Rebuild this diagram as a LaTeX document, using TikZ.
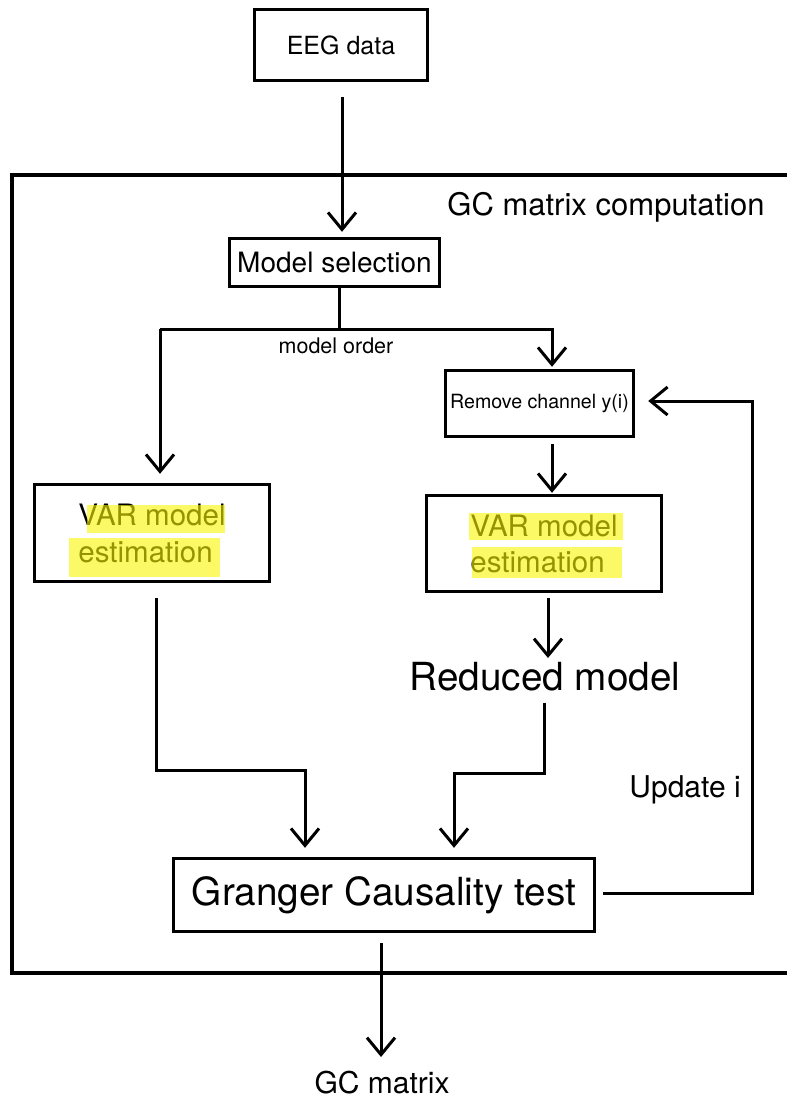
\documentclass[tikz,border=0pt]{standalone}
\usepackage{fontspec}
\setmainfont{TeX Gyre Heros}
\usetikzlibrary{arrows.meta}
\newcommand\fsz[1]{\fontsize{#1pt}{1.25\dimexpr #1pt\relax}\selectfont}
\definecolor{hl}{RGB}{250,245,0}
\begin{document}
\begin{tikzpicture}[x=1pt,y=-1pt,
  box/.style={draw,line width=3.4pt,inner sep=0pt},
  lbl/.style={inner sep=0pt},
  conn/.style={line width=3pt},
  arr/.style={line width=3pt,-{Straight Barb[length=17pt,width=28pt,line width=3pt]}},
  hlmark/.style={fill=hl,opacity=0.6}
]
\useasboundingbox (0,0) rectangle (787,1101);
% outer frame
\draw[line width=3.4pt] (790,175) -- (12,175) -- (12,973) -- (790,973);
\node[lbl,font=\fsz{31}] (title) at (606,207) {GC matrix computation};
% nodes
\node[box,minimum width=173pt,minimum height=71pt,font=\fsz{25}] (eeg) at (341,45) {EEG data};
\node[box,minimum width=210pt,minimum height=48pt,font=\fsz{28}] (ms) at (334.5,262.5) {Model selection};
\node[box,minimum width=188pt,minimum height=66pt,font=\fsz{19.6}] (rem) at (539.5,403.5) {Remove channel y(i)};
\node[box,minimum width=235pt,minimum height=97pt,align=left,font=\fontsize{29.5pt}{37pt}\selectfont] (lvar) at (152,533) {VAR model\\estimation};
\node[box,minimum width=235pt,minimum height=96pt,align=left,font=\fontsize{29.5pt}{36pt}\selectfont] (rvar) at (544,543.5) {VAR model\\estimation};
\node[lbl,font=\fsz{38.7}] (red) at (545,677) {Reduced model};
\node[box,minimum width=421pt,minimum height=73pt,font=\fsz{38.7}] (gc) at (384,895) {Granger Causality test};
\node[lbl,font=\fsz{21.5}] (mo) at (336,346) {model order};
\node[lbl,font=\fsz{30}] (upd) at (685,790) {Update i};
\node[lbl,font=\fsz{30}] (gcm) at (382,1083) {GC matrix};
% highlights
\fill[hlmark] (87,505) rectangle (225,533);
\fill[hlmark] (69,538) rectangle (220,577);
\fill[hlmark] (469,513) rectangle (623,540);
\fill[hlmark] (472,547) rectangle (622,578);
% coordinates
\coordinate (split) at (339,329);
\coordinate (sl) at (160,329);
\coordinate (sr) at (552,329);
\coordinate (c4) at (548,658);
\coordinate (r1) at (544,773);
\coordinate (r2) at (454,773);
\coordinate (l1) at (156,770);
\coordinate (l2) at (305,770);
\coordinate (u1) at (752,893);
\coordinate (u2) at (752,401);
\coordinate (c8) at (381,1057);
% connectors
\draw[arr,shorten <=15pt,shorten >=5pt] (eeg.south -| 342,0) -- (ms.north -| 342,0);
\draw[conn] (ms.south -| split) -- (split);
\draw[arr,shorten >=9pt] (sl) -- (sl |- lvar.north);
\draw[arr,shorten >=2pt] (sl) -- (sr) -- (sr |- rem.north);
\draw[arr,shorten <=6pt,shorten >=1pt] (rem.south -| sr) -- (rvar.north -| sr);
\draw[arr,shorten <=5pt] (rvar.south -| c4) -- (c4);
\draw[arr,shorten <=11pt,shorten >=9pt] (red.south -| r1) -- (r1) -- (r2) -- (r2 |- gc.north);
\draw[arr,shorten <=15pt,shorten >=9pt] (lvar.south -| l1) -- (l1) -- (l2) -- (l2 |- gc.north);
\draw[arr,shorten <=7pt,shorten >=13pt] (gc.east |- u1) -- (u1) -- (u2) -- (u2 -| rem.east);
\draw[arr,shorten <=10pt] (gc.south -| c8) -- (c8);
\end{tikzpicture}
\end{document}
